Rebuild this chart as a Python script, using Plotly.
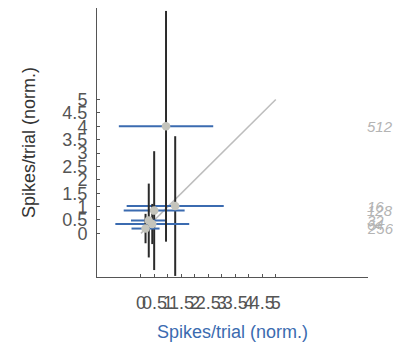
import plotly.graph_objects as go

labels = ["16", "128", "32", "64", "256", "512"]
x_vals = [1.27, 0.49, 0.29, 0.42, 0.17, 0.93]
y_vals = [1.02, 0.85, 0.48, 0.35, 0.18, 4.0]
x_err = [1.80, 1.13, 0.66, 1.37, 0.52, 1.75]
y_err = [2.61, 2.22, 1.38, 0.75, 0.55, 4.31]
tick_vals = [0, 0.5, 1, 1.5, 2, 2.5, 3, 3.5, 4, 4.5, 5]
diag = [0, 5]
axis_range = [-1.63, 8.42]

fig = go.Figure()
fig.add_trace(go.Scatter(x=diag, y=diag, mode="lines",
                         line=dict(color="#bdbdbd", width=1.5),
                         hoverinfo="skip", showlegend=False))
fig.add_trace(go.Scatter(
    x=x_vals, y=y_vals, mode="markers",
    marker=dict(color="#c4c4bc", size=8.5),
    error_x=dict(type="data", array=x_err, color="#3b6bb0", thickness=2, width=0),
    error_y=dict(type="data", array=y_err, color="#2a2a2a", thickness=2, width=0),
    showlegend=False))

for lab, yv in zip(labels, y_vals):
    fig.add_annotation(x=1.0, xref="paper", y=yv, yref="y", text="<i>" + lab + "</i>",
                       showarrow=False, xanchor="left", yanchor="middle", xshift=-3,
                       font=dict(family="Arial", size=15, color="#b4b4b4"))

axis_common = dict(range=axis_range, tickvals=tick_vals, tickangle=0,
                   ticks="inside", ticklen=3, tickcolor="#555555",
                   showline=True, linecolor="#555555", linewidth=1,
                   showgrid=False, zeroline=False, automargin=False,
                   tickfont=dict(family="Arial", size=18, color="#555555"))

fig.update_xaxes(**axis_common, ticklabelstandoff=9,
                 title=dict(text="Spikes/trial (norm.)", standoff=13,
                            font=dict(family="Arial", size=18, color="#3b6bb0")))
fig.update_yaxes(**axis_common, ticklabelstandoff=5,
                 title=dict(text="Spikes/trial (norm.)", standoff=22,
                            font=dict(family="Arial", size=18, color="#333333")))

fig.update_layout(width=401, height=352,
                  margin=dict(l=89, r=41, t=0, b=83),
                  plot_bgcolor="white", paper_bgcolor="white",
                  font=dict(family="Arial"))

fig.write_html("out.html")
